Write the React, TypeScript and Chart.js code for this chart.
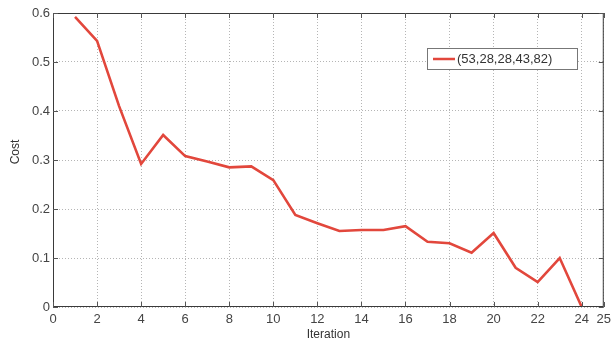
import React, { useEffect, useRef } from "react";
import { Chart, registerables } from "chart.js";

Chart.register(...registerables);

const iterations = [1, 2, 3, 4, 5, 6, 7, 8, 9, 10, 11, 12, 13, 14, 15, 16, 17, 18, 19, 20, 21, 22, 23, 24];
const cost = [0.592, 0.543, 0.41, 0.292, 0.351, 0.308, 0.297, 0.285, 0.287, 0.259, 0.188, 0.171, 0.155, 0.157, 0.157, 0.165, 0.133, 0.13, 0.111, 0.151, 0.08, 0.051, 0.1, 0.0];
const xTicks = [0, 2, 4, 6, 8, 10, 12, 14, 16, 18, 20, 22, 24, 25];
const yTicks = [0, 0.1, 0.2, 0.3, 0.4, 0.5, 0.6];
const seriesLabel = "(53,28,28,43,82)";
const xTitle = "Iteration";
const yTitle = "Cost";

const FONT = "'Liberation Sans', Arial, sans-serif";
const LINE_COLOR = "#e2473c";

const decorPlugin = {
  id: "decor",
  afterDatasetsDraw(chart: any) {
    const { ctx, chartArea } = chart;
    const { left, right, top, bottom } = chartArea;
    ctx.save();
    // border
    ctx.strokeStyle = "#3a3a3a";
    ctx.lineWidth = 1;
    ctx.setLineDash([]);
    ctx.strokeRect(left + 0.5, top + 0.5, right - left - 1, bottom - top - 1);
    // inner tick marks
    const xs = chart.scales.x;
    const ys = chart.scales.y;
    ctx.strokeStyle = "#555";
    ctx.beginPath();
    xTicks.forEach((v) => {
      const px = Math.round(xs.getPixelForValue(v)) + 0.5;
      ctx.moveTo(px, bottom);
      ctx.lineTo(px, bottom - 5);
      ctx.moveTo(px, top);
      ctx.lineTo(px, top + 5);
    });
    yTicks.forEach((v) => {
      const py = Math.round(ys.getPixelForValue(v)) + 0.5;
      ctx.moveTo(left, py);
      ctx.lineTo(left + 5, py);
      ctx.moveTo(right, py);
      ctx.lineTo(right - 5, py);
    });
    ctx.stroke();
    // legend
    const bx = 427, by = 48, bw = 150, bh = 21;
    ctx.fillStyle = "#ffffff";
    ctx.fillRect(bx, by, bw, bh);
    ctx.strokeStyle = "#777";
    ctx.strokeRect(bx + 0.5, by + 0.5, bw, bh);
    ctx.strokeStyle = LINE_COLOR;
    ctx.lineWidth = 2.5;
    ctx.beginPath();
    ctx.moveTo(433, by + bh / 2 + 0.5);
    ctx.lineTo(455, by + bh / 2 + 0.5);
    ctx.stroke();
    ctx.fillStyle = "#333";
    ctx.font = `13px ${FONT}`;
    ctx.textBaseline = "middle";
    ctx.textAlign = "left";
    ctx.fillText(chart.data.datasets[0].label, 457, by + bh / 2 + 1);
    // axis titles
    ctx.font = `12px ${FONT}`;
    ctx.textAlign = "center";
    ctx.fillText(xTitle, (left + right) / 2, 335);
    ctx.translate(16, 152);
    ctx.rotate(-Math.PI / 2);
    ctx.fillText(yTitle, 0, 0);
    ctx.restore();
  },
};

export default function App() {
  const ref = useRef<HTMLCanvasElement>(null);
  useEffect(() => {
    document.body.style.margin = "0";
    const chart = new Chart(ref.current!, {
      type: "line",
      data: {
        datasets: [
          {
            label: seriesLabel,
            data: iterations.map((x, i) => ({ x, y: cost[i] })),
            borderColor: LINE_COLOR,
            borderWidth: 2.6,
            pointRadius: 0,
            tension: 0,
            fill: false,
          },
        ],
      },
      options: {
        responsive: false,
        animation: false,
        layout: { padding: { top: 13, right: 6, left: 0, bottom: 0 } },
        plugins: { legend: { display: false }, tooltip: { enabled: false } },
        scales: {
          x: {
            type: "linear",
            min: 0,
            max: 25,
            afterFit: (s: any) => {
              s.height = 37;
            },
            afterBuildTicks: (s: any) => {
              s.ticks = xTicks.map((v) => ({ value: v }));
            },
            grid: { color: "#b5b5b5", drawTicks: false, tickBorderDash: [] } as any,
            border: { display: false, dash: [1, 2] } as any,
            ticks: {
              autoSkip: false,
              maxRotation: 0,
              padding: 5,
              color: "#444",
              font: { family: FONT, size: 13 },
              callback: (v: any) => String(v),
            },
          },
          y: {
            type: "linear",
            min: 0,
            max: 0.6,
            afterFit: (s: any) => {
              s.width = 53;
            },
            afterBuildTicks: (s: any) => {
              s.ticks = yTicks.map((v) => ({ value: v }));
            },
            grid: { color: "#b5b5b5", drawTicks: false },
            border: { display: false, dash: [1, 2] } as any,
            ticks: {
              padding: 3,
              color: "#444",
              font: { family: FONT, size: 13 },
              callback: (v: any) => (v === 0 ? "0" : Number(v).toFixed(1)),
            },
          },
        },
      },
      plugins: [decorPlugin],
    });
    return () => chart.destroy();
  }, []);
  return (
    <div style={{ position: "relative", width: 616, height: 344, background: "#fff" }}>
      <canvas ref={ref} width={616} height={344} style={{ display: "block" }} />
    </div>
  );
}
